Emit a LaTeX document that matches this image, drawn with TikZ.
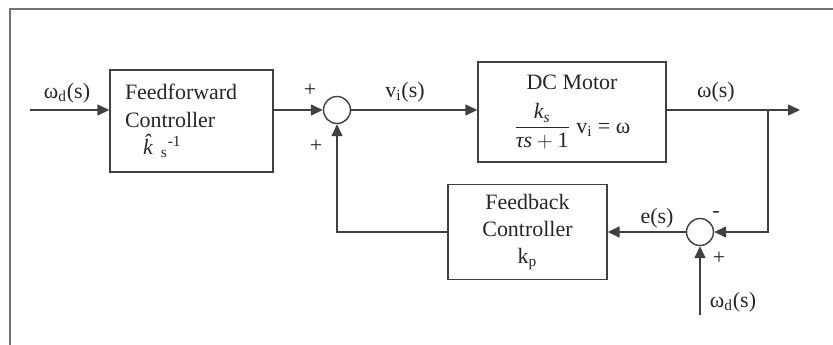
\documentclass[tikz,border=0pt]{standalone}
\usepackage{amsmath}
\usepackage{fontspec}
\setmainfont{Liberation Serif}
\usepackage{tikz}
\usetikzlibrary{arrows.meta, calc, positioning}
\definecolor{lineGray}{rgb}{0.25, 0.25, 0.25}
\definecolor{frameGray}{rgb}{0.45, 0.45, 0.45}
\tikzstyle{block} = [rectangle, draw=lineGray, line width=0.8pt, text centered, font=\fontsize{12.5}{15.5}\selectfont, text=black!85]
\tikzstyle{sumnode} = [circle, draw=lineGray, line width=0.8pt, minimum size=0.54cm, inner sep=0pt]
\tikzstyle{signal} = [draw=lineGray, line width=0.8pt, -{Triangle[length=0.24cm,width=0.22cm]}]
\tikzstyle{lbl} = [font=\fontsize{12.5}{15}\selectfont, text=black!85, inner sep=1pt]

\begin{document}
\begin{tikzpicture}[x=0.02cm, y=-0.02cm]
\useasboundingbox (0,0) rectangle (833,345);
\draw[frameGray, line width=1.1pt] (10,345) -- (10,9) -- (833,9);

\node[block,
minimum width=3.26cm,
minimum height=2.04cm,
text width=2.66cm,
align=left,
inner xsep=0.3cm
] (feedfwd) at (191.5,121) {Feedforward\\Controller\\\hspace*{0.36cm}\textit{\^{k}}\textsubscript{s}\textsuperscript{-1}};

\node[sumnode] (sumA) at (337,110) {};

\node[block,
minimum width=3.76cm,
minimum height=2.0cm,
align=center
] (motor) at (572,112) {DC Motor\\[7pt]$\dfrac{\textit{k}_{\textit{s}}}{\textit{τs}+\text{1}}$ v\textsubscript{i} = ω};

\node[block,
minimum width=3.18cm,
minimum height=1.9cm,
align=center
] (feedback) at (527.5,232) {Feedback\\Controller\\k\textsubscript{p}};

\node[sumnode] (sumB) at (700,232) {};

\coordinate (input) at (30,110);
\coordinate (output) at (800,110);
\coordinate (branch) at (768,110);
\coordinate (refin) at (700,315);

% forward path
\draw[signal] (input) -- (input -| feedfwd.west);
\draw[signal] (sumA -| feedfwd.east) -- (sumA.west);
\draw[signal] (sumA.east) -- (sumA -| motor.west);
\draw[signal] (sumA -| motor.east) -- (output);

% feedback path
\draw[signal] (branch) |- (sumB.east);
\draw[signal] (sumB.west) -- (feedback.east);
\draw[signal] (feedback.west) -| (sumA.south);
\draw[signal] (refin) -- (sumB.south);

% labels
\node[lbl] (wdA) at (67,93) {ω\textsubscript{d}(s)};
\node[lbl] (plusA) at (310,90) {+};
\node[lbl] (plusB) at (316,146) {+};
\node[lbl] (vin) at (405,92) {v\textsubscript{i}(s)};
\node[lbl] (wout) at (716,92) {ω(s)};
\node[lbl] (err) at (657,218) {e(s)};
\node[lbl] (minusC) at (716,215) {-};
\node[lbl] (plusC) at (719,258) {+};
\node[lbl] (wdB) at (733,302) {ω\textsubscript{d}(s)};
\end{tikzpicture}
\end{document}
